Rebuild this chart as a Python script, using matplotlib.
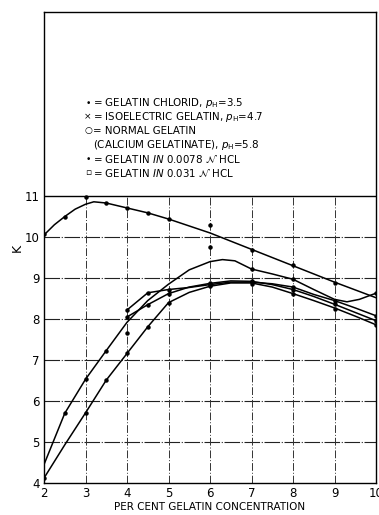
import matplotlib
matplotlib.use("Agg")
import matplotlib.pyplot as plt

# ---- data ----
x_ticks = [2, 3, 4, 5, 6, 7, 8, 9, 10]
y_ticks = [4, 5, 6, 7, 8, 9, 10, 11]

# Gelatin chlorid, pH 3.5
a_line_x = [2, 2.25, 2.5, 2.75, 3, 3.2, 3.5, 4, 4.5, 5, 6, 7, 8, 9, 10]
a_line_y = [10.05, 10.3, 10.5, 10.68, 10.8, 10.86, 10.83, 10.71, 10.59, 10.44, 10.1, 9.7, 9.3, 8.9, 8.52]
a_pts_x = [2, 2.5, 3, 3.5, 4, 4.5, 5, 6, 7, 8, 9]
a_pts_y = [10.08, 10.5, 10.98, 10.84, 10.71, 10.59, 10.44, 10.29, 9.68, 9.31, 8.88]

# Isoelectric gelatin, pH 4.7
b_line_x = [2, 2.5, 3, 3.5, 4, 4.5, 5, 5.5, 6, 6.5, 7, 7.5, 8, 8.5, 9, 9.5, 10]
b_line_y = [4.12, 4.93, 5.71, 6.51, 7.16, 7.81, 8.4, 8.65, 8.8, 8.88, 8.88, 8.78, 8.62, 8.45, 8.27, 8.07, 7.86]
b_pts_x = [2, 3, 3.5, 4, 4.5, 5, 6, 7, 8, 9, 10]
b_pts_y = [4.12, 5.71, 6.51, 7.16, 7.81, 8.4, 8.8, 8.85, 8.6, 8.25, 7.86]

# Normal gelatin (calcium gelatinate), pH 5.8
c_line_x = [2, 2.5, 3, 3.5, 4, 4.5, 5, 5.5, 6, 6.3, 6.6, 7, 7.5, 8, 8.5, 9, 9.3, 9.6, 10]
c_line_y = [4.45, 5.7, 6.53, 7.23, 7.92, 8.45, 8.85, 9.2, 9.4, 9.45, 9.42, 9.22, 9.1, 8.97, 8.72, 8.48, 8.42, 8.48, 8.63]
c_pts_x = [2.5, 3, 3.5, 4, 6, 7, 8, 10]
c_pts_y = [5.7, 6.53, 7.23, 7.65, 9.75, 9.22, 8.97, 8.63]

# Gelatin in 0.0078 N HCl
d_line_x = [4, 4.5, 5, 5.5, 6, 6.5, 7, 7.5, 8, 8.5, 9, 9.5, 10]
d_line_y = [8.05, 8.35, 8.62, 8.78, 8.87, 8.93, 8.92, 8.84, 8.72, 8.55, 8.36, 8.16, 7.96]
d_pts_x = [4, 4.5, 5, 6, 7, 8, 9, 10]
d_pts_y = [8.05, 8.35, 8.62, 8.87, 8.92, 8.72, 8.36, 7.96]

# Gelatin in 0.031 N HCl
e_line_x = [4, 4.5, 5, 5.5, 6, 6.5, 7, 7.5, 8, 8.5, 9, 9.5, 10]
e_line_y = [8.22, 8.64, 8.72, 8.77, 8.84, 8.9, 8.9, 8.86, 8.78, 8.6, 8.45, 8.27, 8.08]
e_pts_x = [4, 4.5, 5, 6, 7, 8, 9, 10]
e_pts_y = [8.22, 8.64, 8.72, 8.84, 8.9, 8.78, 8.45, 8.08]

legend_lines = [
    ("•", r"= GELATIN CHLORID, $p_{\rm H}$=3.5"),
    ("×", r"= ISOELECTRIC GELATIN, $p_{\rm H}$=4.7"),
    ("○", r"= NORMAL GELATIN"),
    ("", r"(CALCIUM GELATINATE), $p_{\rm H}$=5.8"),
    ("•", r"= GELATIN $IN$ 0.0078 $\mathcal{N}$ HCL"),
    ("▫", r"= GELATIN $IN$ 0.031 $\mathcal{N}$ HCL"),
]

# ---- figure ----
W, H = 379, 515
fig = plt.figure(figsize=(W / 100, H / 100), dpi=100)
ax = fig.add_axes([44 / W, (H - 483) / H, (376 - 44) / W, (483 - 12) / H])
ax.set_xlim(2, 10)
ax.set_ylim(4, 15.49)

# grid
for yv in y_ticks[1:-1]:
    ax.plot([2, 10], [yv, yv], color="#222222", lw=0.8, ls=(0, (14, 1.5, 1, 1.5)), zorder=1)
ax.plot([2, 10], [11, 11], color="black", lw=1.0, zorder=1)
for xv in x_ticks[1:-1]:
    ax.plot([xv, xv], [4, 11], color="#333333", lw=0.7, ls=(0, (8, 2, 1, 2)), zorder=1)

lc = "black"
for lx, ly, px, py in [
    (a_line_x, a_line_y, a_pts_x, a_pts_y),
    (b_line_x, b_line_y, b_pts_x, b_pts_y),
    (c_line_x, c_line_y, c_pts_x, c_pts_y),
    (d_line_x, d_line_y, d_pts_x, d_pts_y),
    (e_line_x, e_line_y, e_pts_x, e_pts_y),
]:
    ax.plot(lx, ly, color=lc, lw=1.1, zorder=3, solid_capstyle="round")
    ax.plot(px, py, ls="none", marker="o", ms=2.2, color=lc, zorder=4)

ax.set_xticks(x_ticks)
ax.set_yticks(y_ticks)
ax.tick_params(axis="both", length=0, pad=3, labelsize=8.5, colors="black")
for s in ax.spines.values():
    s.set_linewidth(1.0)
    s.set_color("black")

ax.set_xlabel("PER CENT GELATIN CONCENTRATION", fontsize=7.5, labelpad=1)
ax.set_ylabel("K", fontsize=9, rotation=90, labelpad=1)

# legend text block
y0 = 103
dy = 14
for i, (mk, txt) in enumerate(legend_lines):
    ypix = y0 + i * dy
    yf = 1 - ypix / H
    if mk:
        fig.text(88 / W, yf, mk, fontsize=6.5, ha="center", va="center")
    fig.text(93 / W, yf, txt, fontsize=7.4, ha="left", va="center")

fig.savefig("out.png", dpi=100)
